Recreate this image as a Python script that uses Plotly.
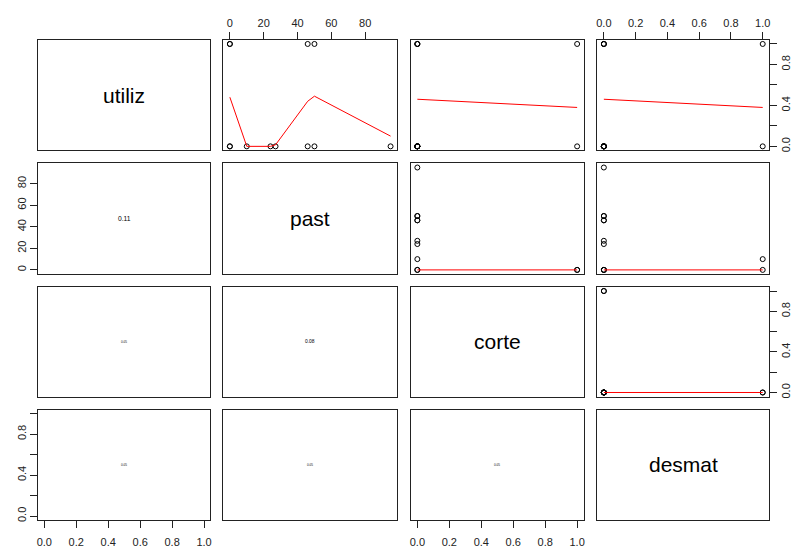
import plotly.graph_objects as go

# Variables of the scatterplot matrix
var_names = ["utiliz", "past", "corte", "desmat"]
utiliz = [1, 0, 1, 0, 0, 0, 1, 0, 1, 0, 0, 0]
past = [0, 0, 0, 10, 24, 27, 46, 46, 50, 50, 95, 0]
corte = [1, 1, 0, 0, 0, 0, 0, 0, 0, 0, 0, 0]
desmat = [0, 0, 1, 1, 0, 0, 0, 0, 0, 0, 0, 0]
columns = [utiliz, past, corte, desmat]

# Smoothed (lowess) curves for the upper panels: (row, col) -> (x, y)
smooth_1_2_x = [0, 10, 24, 27, 46, 50, 95]
smooth_1_2_y = [0.48, 0.0, 0.0, 0.015, 0.44, 0.49, 0.10]
smooth_1_3_x = [0, 1]
smooth_1_3_y = [0.46, 0.38]
smooth_1_4_x = [0, 1]
smooth_1_4_y = [0.46, 0.38]
smooth_2_3_x = [0, 1]
smooth_2_3_y = [0, 0]
smooth_2_4_x = [0, 1]
smooth_2_4_y = [0, 0]
smooth_3_4_x = [0, 1]
smooth_3_4_y = [0, 0]
smooth = {
    (0, 1): (smooth_1_2_x, smooth_1_2_y),
    (0, 2): (smooth_1_3_x, smooth_1_3_y),
    (0, 3): (smooth_1_4_x, smooth_1_4_y),
    (1, 2): (smooth_2_3_x, smooth_2_3_y),
    (1, 3): (smooth_2_4_x, smooth_2_4_y),
    (2, 3): (smooth_3_4_x, smooth_3_4_y),
}

# Absolute correlations shown in the lower panels
cor_labels = {
    (1, 0): "0.11",
    (2, 0): "0.05",
    (2, 1): "0.08",
    (3, 0): "0.05",
    (3, 1): "0.05",
    (3, 2): "0.05",
}

W, H = 795, 549
col_px = [(37, 210), (223, 397), (411, 584), (598, 770)]
row_px = [(40, 151), (164, 275), (288, 398), (411, 522)]

def pad_range(vals):
    lo, hi = min(vals), max(vals)
    d = (hi - lo) * 0.04
    return [lo - d, hi + d]

ranges = [pad_range(c) for c in columns]

bin_ticks = [0, 0.2, 0.4, 0.6, 0.8, 1.0]
bin_all = ["0.0", "0.2", "0.4", "0.6", "0.8", "1.0"]
bin_alt = ["0.0", "", "0.4", "", "0.8", ""]
past_ticks = [0, 20, 40, 60, 80]
past_lab = ["0", "20", "40", "60", "80"]

FONT = "Liberation Sans, Arial, sans-serif"

fig = go.Figure()
layout = dict(
    width=W, height=H, autosize=False,
    margin=dict(l=0, r=0, t=0, b=0),
    paper_bgcolor="white", plot_bgcolor="white",
    showlegend=False,
    font=dict(family=FONT, color="#222", size=11),
)
annotations = []

def axis_base(domain, rng):
    return dict(
        domain=domain, range=rng, showgrid=False, zeroline=False,
        showline=True, mirror=True, linecolor="#222", linewidth=1,
        showticklabels=False, ticks="", fixedrange=True,
    )

for i in range(4):
    for j in range(4):
        k = i * 4 + j + 1
        xa = "xaxis" if k == 1 else f"xaxis{k}"
        ya = "yaxis" if k == 1 else f"yaxis{k}"
        xr = "x" if k == 1 else f"x{k}"
        yr = "y" if k == 1 else f"y{k}"
        x0, x1 = col_px[j]
        t0, t1 = row_px[i]
        xd = [x0 / W, x1 / W]
        yd = [1 - t1 / H, 1 - t0 / H]
        xax = axis_base(xd, ranges[j])
        yax = axis_base(yd, ranges[i])
        xax["anchor"] = yr
        yax["anchor"] = xr

        # outer axes, alternating sides as in a pairs plot
        if i == 0 and j % 2 == 1:
            xax.update(side="top", showticklabels=True, ticks="outside",
                       ticklen=7, tickcolor="#222",
                       tickvals=past_ticks if j == 1 else bin_ticks,
                       ticktext=past_lab if j == 1 else bin_all)
        if i == 3 and j % 2 == 0:
            xax.update(side="bottom", showticklabels=True, ticks="outside",
                       ticklen=7, tickcolor="#222", ticklabelstandoff=5,
                       tickvals=past_ticks if j == 1 else bin_ticks,
                       ticktext=past_lab if j == 1 else bin_all)
        if j == 0 and i % 2 == 1:
            yax.update(side="left", showticklabels=True, ticks="outside",
                       ticklen=7, tickcolor="#222", tickangle=-90,
                       tickvals=past_ticks if i == 1 else bin_ticks,
                       ticktext=past_lab if i == 1 else bin_alt)
        if j == 3 and i % 2 == 0:
            yax.update(side="right", showticklabels=True, ticks="outside",
                       ticklen=7, tickcolor="#222", tickangle=-90,
                       tickvals=past_ticks if i == 1 else bin_ticks,
                       ticktext=past_lab if i == 1 else bin_alt)
        layout[xa] = xax
        layout[ya] = yax

        # empty trace so that every panel's axes are created
        fig.add_trace(go.Scatter(x=[None], y=[None], mode="markers",
                                 xaxis=xr, yaxis=yr, hoverinfo="skip"))

        if i == j:
            annotations.append(dict(
                xref=f"{xr} domain", yref=f"{yr} domain", x=0.5, y=0.5,
                text=var_names[i], showarrow=False,
                font=dict(family=FONT, size=21, color="black"),
            ))
        elif i < j:
            fig.add_trace(go.Scatter(
                x=columns[j], y=columns[i], mode="markers",
                marker=dict(symbol="circle-open", size=5,
                            color="black", line=dict(width=1)),
                xaxis=xr, yaxis=yr, hoverinfo="skip",
            ))
            sx, sy = smooth[(i, j)]
            fig.add_trace(go.Scatter(
                x=sx, y=sy, mode="lines",
                line=dict(color="red", width=1),
                xaxis=xr, yaxis=yr, hoverinfo="skip",
            ))
        else:
            lab = cor_labels[(i, j)]
            size = max(1, 61 * float(lab))
            annotations.append(dict(
                xref=f"{xr} domain", yref=f"{yr} domain", x=0.5, y=0.5,
                text=lab, showarrow=False,
                font=dict(family=FONT, size=size, color="black"),
            ))

layout["annotations"] = annotations
fig.update_layout(**layout)
fig.write_html("out.html")
